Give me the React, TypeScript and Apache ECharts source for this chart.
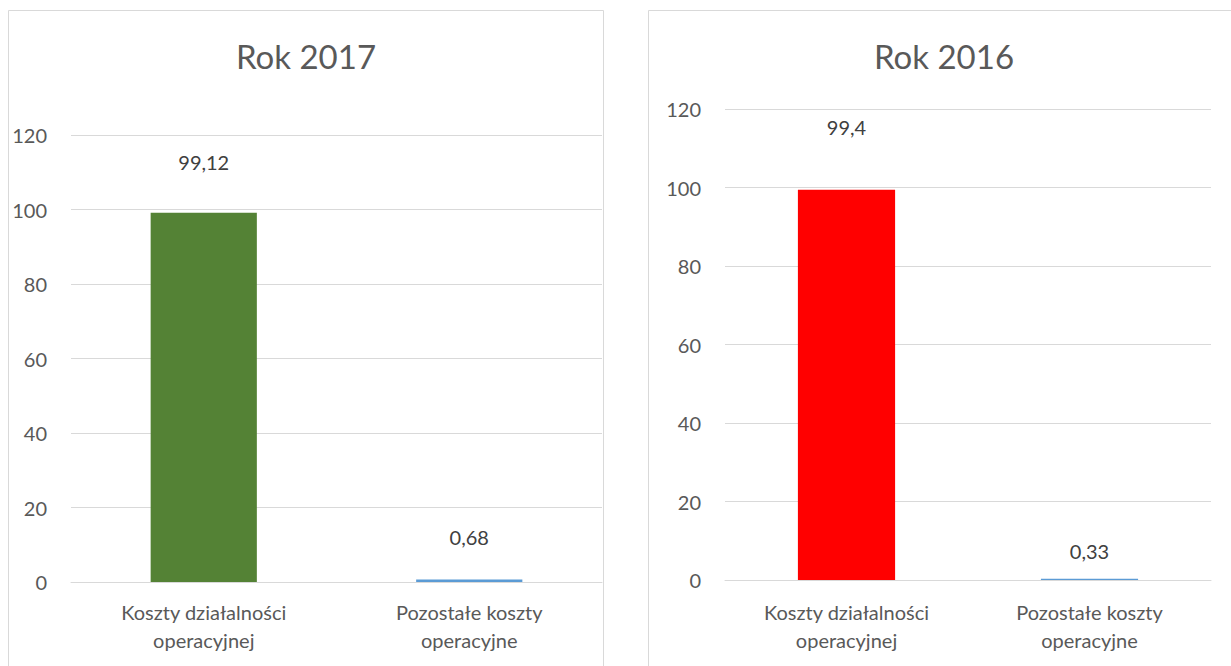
import React, { useEffect, useRef } from "react";
import * as echarts from "echarts";

const categories = ["Koszty działalności\noperacyjnej", "Pozostałe koszty\noperacyjne"];
const values2017 = [99.12, 0.68];
const values2016 = [99.4, 0.33];
const labels2017 = ["99,12", "0,68"];
const labels2016 = ["99,4", "0,33"];
const colors2017 = ["#548235", "#5B9BD5"];
const colors2016 = ["#FF0000", "#5B9BD5"];
const labelGap2017 = [41, 32];
const labelGap2016 = [53, 18];
const titles = ["Rok 2017", "Rok 2016"];
const yMin = 0;
const yMax = 120;
const yStep = 20;

const FONT = "Lato, 'Open Sans', sans-serif";
const TXT = "#595959";

export default function App() {
  const ref = useRef<HTMLDivElement>(null);
  useEffect(() => {
    if (!ref.current) return;
    const chart = echarts.init(ref.current, null, { renderer: "svg" });
    const grids = [
      { left: 71, right: 629, top: 135, bottom: 84 },
      { left: 725, right: 20, top: 109, bottom: 86 },
    ];
    const xAxis = grids.map((_, i) => ({
      type: "category",
      gridIndex: i,
      data: categories,
      axisLine: { show: true, lineStyle: { color: "#D9D9D9", width: 1 } },
      axisTick: { show: false },
      axisLabel: {
        color: TXT,
        fontSize: 20,
        fontFamily: FONT,
        lineHeight: 28,
        margin: i === 0 ? 16 : 18,
        interval: 0,
      },
    }));
    const yAxis = grids.map((_, i) => ({
      type: "value",
      gridIndex: i,
      min: yMin,
      max: yMax,
      interval: yStep,
      axisLine: { show: false },
      axisTick: { show: false },
      splitLine: { show: true, lineStyle: { color: "#D9D9D9", width: 1 } },
      axisLabel: { color: TXT, fontSize: 20, fontFamily: FONT, margin: 24 },
    }));
    const mk = (vals: number[], labs: string[], cols: string[], gaps: number[], idx: number) => ({
      type: "bar",
      xAxisIndex: idx,
      yAxisIndex: idx,
      barWidth: "40%",
      data: vals.map((v, j) => ({
        value: v,
        itemStyle: { color: cols[j] },
        label: {
          show: true,
          position: "top",
          distance: gaps[j],
          formatter: labs[j],
          color: "#404040",
          fontSize: 20,
          lineHeight: 20,
          fontFamily: FONT,
        },
      })),
    });
    chart.setOption({
      animation: false,
      backgroundColor: "#FFFFFF",
      grid: grids,
      xAxis,
      yAxis,
      series: [
        mk(values2017, labels2017, colors2017, labelGap2017, 0),
        mk(values2016, labels2016, colors2016, labelGap2016, 1),
      ],
      graphic: [
        { type: "rect", shape: { x: 8.5, y: 10.5, width: 595, height: 700 }, style: { fill: "none", stroke: "#D9D9D9", lineWidth: 1 }, silent: true, z: -10 },
        { type: "rect", shape: { x: 648.5, y: 10.5, width: 620, height: 700 }, style: { fill: "none", stroke: "#D9D9D9", lineWidth: 1 }, silent: true, z: -10 },
        { type: "text", x: 306, y: 56, style: { text: titles[0], fontSize: 33, fontFamily: FONT, fill: TXT, align: "center", verticalAlign: "middle" } },
        { type: "text", x: 944, y: 56, style: { text: titles[1], fontSize: 33, fontFamily: FONT, fill: TXT, align: "center", verticalAlign: "middle" } },
      ],
    });
    return () => chart.dispose();
  }, []);
  return (
    <div
      ref={ref}
      style={{ position: "fixed", left: 0, top: 0, width: 1231, height: 666, background: "#fff" }}
    />
  );
}
